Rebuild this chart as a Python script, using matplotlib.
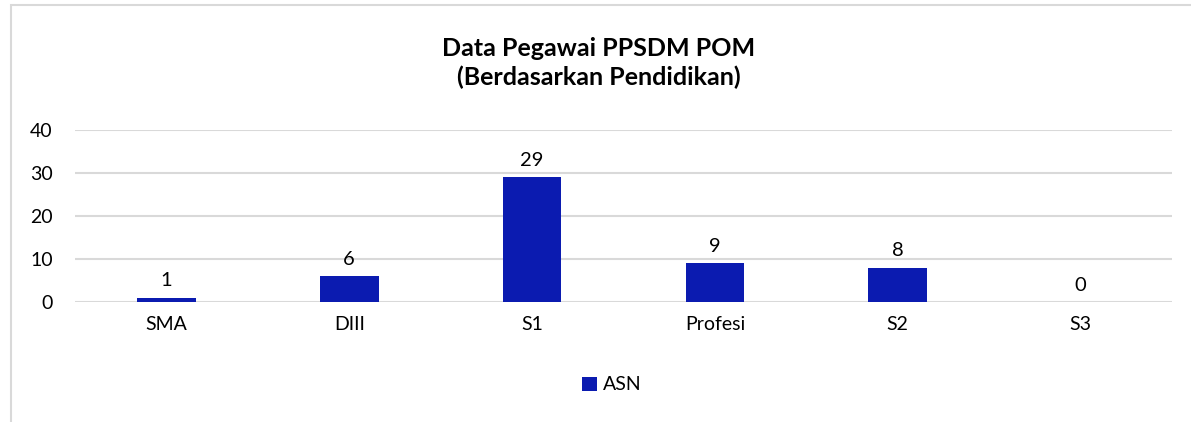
import matplotlib.pyplot as plt
import matplotlib.ticker as ticker
from matplotlib.patches import Rectangle

categories = ['SMA', 'DIII', 'S1', 'Profesi', 'S2', 'S3']
asn_values = [1, 6, 29, 9, 8, 0]
series_label = 'ASN'
title = 'Data Pegawai PPSDM POM\n(Berdasarkan Pendidikan)'

BAR_COLOR = '#0B1BB0'
GRID_COLOR = '#D9D9D9'

plt.rcParams['font.family'] = ['Lato', 'DejaVu Sans']

fig = plt.figure(figsize=(11.91, 4.22), dpi=100)
W, H = 1191, 422

# chart frame (Excel-like border, clipped by image edge right/bottom)
fig.patches.append(Rectangle((11 / W, -0.1), 1.2, 1 - 5 / H + 0.1,
                             transform=fig.transFigure, fill=False,
                             edgecolor=GRID_COLOR, linewidth=1.5))

ax = fig.add_axes([75 / W, 1 - 302 / H, (1172 - 75) / W, (302 - 130) / H])

x = range(len(categories))
bars = ax.bar(x, asn_values, width=0.32, color=BAR_COLOR, label=series_label, zorder=3)

for rect, v in zip(bars, asn_values):
    ax.annotate(str(v), (rect.get_x() + rect.get_width() / 2, v),
                xytext=(0, 6), textcoords='offset points',
                ha='center', va='bottom', fontsize=14.5, color='#000000')

ax.set_xlim(-0.5, len(categories) - 0.5)
ax.set_ylim(0, 40)
ax.yaxis.set_major_locator(ticker.MultipleLocator(10))
ax.set_xticks(list(x))
ax.set_xticklabels(categories)
ax.tick_params(axis='both', length=0, labelsize=14, colors='#000000')
ax.tick_params(axis='x', pad=10)
ax.tick_params(axis='y', pad=16)

ax.grid(True, axis='y', color=GRID_COLOR, linewidth=1.5, zorder=0)
for s in ax.spines.values():
    s.set_visible(False)

fig.text(599 / W, 1 - 63 / H, title, ha='center', va='center',
         fontsize=18, fontweight='bold', linespacing=1.25)

ax.legend(loc='center', bbox_to_anchor=(612 / W, 1 - 385 / H),
          bbox_transform=fig.transFigure, frameon=False, fontsize=14,
          handlelength=0.75, handleheight=0.75, handletextpad=0.3)

fig.savefig('out.png', dpi=100)
